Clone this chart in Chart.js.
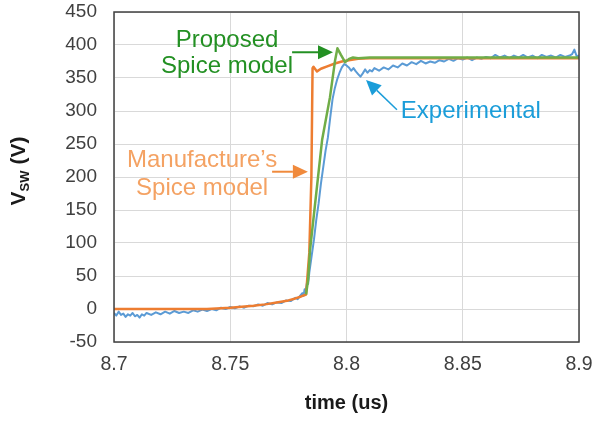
<!DOCTYPE html>
<html>
<head>
<meta charset="utf-8">
<script src="https://cdn.jsdelivr.net/npm/chart.js@4/dist/chart.umd.min.js"></script>
<style>
  html, body { margin: 0; padding: 0; background: #ffffff; }
  #wrap { width: 593px; height: 424px; position: relative; }
</style>
</head>
<body>
<div id="wrap"><canvas id="c" width="593" height="424"></canvas></div>
<script>
// ---------- data ----------
const xTickValues = [8.7, 8.75, 8.8, 8.85, 8.9];
const xTickLabels = ['8.7', '8.75', '8.8', '8.85', '8.9'];
const yTickValues = [-50, 0, 50, 100, 150, 200, 250, 300, 350, 400, 450];
const yTickLabels = ['-50', '0', '50', '100', '150', '200', '250', '300', '350', '400', '450'];

// Manufacture's Spice model (orange)
const manuTime = [8.700, 8.740, 8.750, 8.760, 8.765, 8.770, 8.775, 8.778, 8.7805, 8.7826, 8.7840, 8.7849, 8.7854, 8.7858, 8.7873, 8.789, 8.792, 8.795, 8.798, 8.801, 8.805, 8.810, 8.900];
const manuVolt = [0, 0, 2, 5, 7, 10, 13, 16, 19, 22, 85, 200, 365, 367, 360, 364, 368, 372, 375, 377, 379, 380, 380];

// Proposed Spice model (green) - visible from where it leaves the orange trace
const propTime = [8.7826, 8.7835, 8.7843, 8.7895, 8.7929, 8.7951, 8.7961, 8.7976, 8.7994, 8.8011, 8.8028, 8.805, 8.810, 8.900];
const propVolt = [22, 45, 89, 256, 321, 377, 395, 385, 374, 379, 381, 380, 381, 381];

// Experimental (blue)
const expTime = [8.700, 8.701, 8.702, 8.703, 8.704, 8.705, 8.706, 8.707, 8.708, 8.709, 8.710, 8.711, 8.712, 8.713, 8.714, 8.716, 8.718, 8.720, 8.722, 8.724, 8.726, 8.728, 8.730, 8.732, 8.734, 8.736, 8.738, 8.740, 8.742, 8.744, 8.746, 8.748, 8.750, 8.752, 8.754, 8.756, 8.758, 8.760, 8.762, 8.764, 8.766, 8.768, 8.770, 8.772, 8.774, 8.776, 8.778, 8.779, 8.780, 8.781, 8.7815, 8.782, 8.7825, 8.783, 8.7835, 8.784,
  8.785, 8.786, 8.787, 8.788, 8.789, 8.790, 8.791, 8.792, 8.793, 8.794, 8.795, 8.796, 8.797, 8.798, 8.799, 8.800, 8.801, 8.802, 8.803, 8.804, 8.805, 8.806, 8.807, 8.808, 8.809, 8.810, 8.811, 8.812,
  8.814, 8.816, 8.818, 8.820, 8.822, 8.824, 8.826, 8.828, 8.830, 8.832, 8.834, 8.836, 8.838, 8.840, 8.842, 8.844, 8.846, 8.848, 8.850, 8.852, 8.854, 8.856, 8.858, 8.860, 8.862, 8.864, 8.866, 8.868, 8.870, 8.872, 8.874, 8.876, 8.878, 8.880, 8.882, 8.884, 8.886, 8.888, 8.890, 8.892, 8.894, 8.896, 8.897, 8.898, 8.899, 8.900];
const expVolt = [-6, -10, -4, -9, -7, -12, -8, -10, -6, -11, -9, -13, -8, -10, -6, -9, -5, -8, -4, -7, -3, -6, -4, -6, -2, -4, -1, -3, 0, -2, 2, 0, 3, 1, 4, 2, 5, 4, 7, 5, 9, 7, 10, 9, 13, 12, 17, 15, 20, 24, 20, 30, 28, 40, 38, 55,
  80, 105, 135, 160, 190, 215, 240, 260, 290, 318, 335, 348, 358, 366, 371, 369, 366, 361, 365, 360, 356, 352, 357, 363, 358, 362, 360, 365,
  361, 366, 363, 369, 366, 372, 369, 374, 371, 376, 372, 375, 373, 377, 375, 379, 376, 380, 378, 381, 377, 381, 379, 382, 380, 385, 381, 384, 380, 384, 381, 385, 381, 384, 380, 385, 382, 384, 381, 385, 382, 384, 386, 393, 383, 384];

// annotation texts (positions in data units)
const noteTexts = [
  { text: 'Proposed', t: 8.7486, v: 397, color: '#239023' },
  { text: 'Spice model', t: 8.7486, v: 358, color: '#239023' },
  { text: 'Manufacture\u2019s', t: 8.7379, v: 215, color: '#F4A263' },
  { text: 'Spice model', t: 8.7379, v: 173, color: '#F4A263' },
  { text: 'Experimental', t: 8.8535, v: 289, color: '#1B9DD9' }
];
const noteArrows = [
  { t0: 8.7766, v0: 389, t1: 8.7942, v1: 389, color: '#239023', w: 2 },
  { t0: 8.7680, v0: 208, t1: 8.7834, v1: 208, color: '#F08A3C', w: 2 },
  { t0: 8.8217, v0: 302, t1: 8.8084, v1: 347, color: '#1B9DD9', w: 1.5 }
];

const zip = (xs, ys) => xs.map((x, i) => ({ x: x, y: ys[i] }));

const FONT = '"Liberation Sans", Arial, sans-serif';

const decor = {
  id: 'decor',
  afterDatasetsDraw(chart) {
    const ctx = chart.ctx;
    const a = chart.chartArea;
    const xs = chart.scales.x, ys = chart.scales.y;
    ctx.save();
    // plot border
    ctx.strokeStyle = '#404040';
    ctx.lineWidth = 1.5;
    ctx.strokeRect(a.left, a.top, a.right - a.left, a.bottom - a.top);
    // annotation texts
    ctx.font = '24px ' + FONT;
    ctx.textAlign = 'center';
    ctx.textBaseline = 'alphabetic';
    noteTexts.forEach(n => {
      ctx.fillStyle = n.color;
      ctx.fillText(n.text, xs.getPixelForValue(n.t), ys.getPixelForValue(n.v));
    });
    // arrows
    noteArrows.forEach(ar => {
      const x0 = xs.getPixelForValue(ar.t0), y0 = ys.getPixelForValue(ar.v0);
      const x1 = xs.getPixelForValue(ar.t1), y1 = ys.getPixelForValue(ar.v1);
      const ang = Math.atan2(y1 - y0, x1 - x0);
      const L = 15, H = 7;
      const bx = x1 - L * Math.cos(ang), by = y1 - L * Math.sin(ang);
      ctx.strokeStyle = ar.color;
      ctx.fillStyle = ar.color;
      ctx.lineWidth = ar.w;
      ctx.beginPath();
      ctx.moveTo(x0, y0);
      ctx.lineTo(bx, by);
      ctx.stroke();
      ctx.beginPath();
      ctx.moveTo(x1, y1);
      ctx.lineTo(bx + H * Math.sin(ang), by - H * Math.cos(ang));
      ctx.lineTo(bx - H * Math.sin(ang), by + H * Math.cos(ang));
      ctx.closePath();
      ctx.fill();
    });
    // y axis title with subscript
    const cy = (a.top + a.bottom) / 2 - 6;
    ctx.translate(19, cy);
    ctx.rotate(-Math.PI / 2);
    ctx.fillStyle = '#1a1a1a';
    ctx.textAlign = 'left';
    ctx.textBaseline = 'middle';
    const bigF = 'bold 21px ' + FONT, smallF = 'bold 13px ' + FONT;
    ctx.font = bigF; const wV = ctx.measureText('V').width;
    ctx.font = smallF; const wS = ctx.measureText('SW').width;
    ctx.font = bigF; const wR = ctx.measureText(' (V)').width;
    let x = -(wV + wS + wR) / 2;
    ctx.font = bigF; ctx.fillText('V', x, 0); x += wV;
    ctx.font = smallF; ctx.fillText('SW', x, 6); x += wS;
    ctx.font = bigF; ctx.fillText(' (V)', x, 0);
    ctx.restore();
  }
};

new Chart(document.getElementById('c'), {
  type: 'line',
  data: {
    datasets: [
      { label: 'Proposed Spice model', data: zip(propTime, propVolt), borderColor: '#70AD47', borderWidth: 2.5 },
      { label: "Manufacture's Spice model", data: zip(manuTime, manuVolt), borderColor: '#ED7D31', borderWidth: 2.5 },
      { label: 'Experimental', data: zip(expTime, expVolt), borderColor: '#5B9BD5', borderWidth: 2 }
    ]
  },
  options: {
    responsive: false,
    animation: false,
    elements: { point: { radius: 0 }, line: { tension: 0, fill: false, borderJoinStyle: 'round' } },
    layout: { padding: { left: 0, top: 12, right: 14, bottom: 0 } },
    plugins: { legend: { display: false }, tooltip: { enabled: false } },
    scales: {
      x: {
        type: 'linear', min: 8.7, max: 8.9,
        afterBuildTicks: s => { s.ticks = xTickValues.map(v => ({ value: v })); },
        afterFit: s => { s.height = 82; s.paddingLeft = 0; s.paddingRight = 0; s.paddingTop = 0; s.paddingBottom = 0; },
        grid: { color: '#d9d9d9', drawTicks: false },
        border: { display: false },
        ticks: {
          padding: 11, color: '#404040', maxRotation: 0,
          font: { family: FONT, size: 19.5 },
          callback: (v, i) => xTickLabels[i]
        },
        title: { display: true, text: 'time (us)', color: '#1a1a1a', font: { family: FONT, size: 20, weight: 'bold' }, padding: { top: 12, bottom: 9 } }
      },
      y: {
        type: 'linear', min: -50, max: 450,
        afterBuildTicks: s => { s.ticks = yTickValues.map(v => ({ value: v })); },
        afterFit: s => { s.width = 114; s.paddingLeft = 0; s.paddingRight = 0; s.paddingTop = 0; s.paddingBottom = 0; },
        grid: { color: '#d9d9d9', drawTicks: false },
        border: { display: false },
        ticks: {
          padding: 17, color: '#404040',
          font: { family: FONT, size: 19 },
          callback: (v, i) => yTickLabels[i]
        }
      }
    }
  },
  plugins: [decor]
});
</script>
</body>
</html>
